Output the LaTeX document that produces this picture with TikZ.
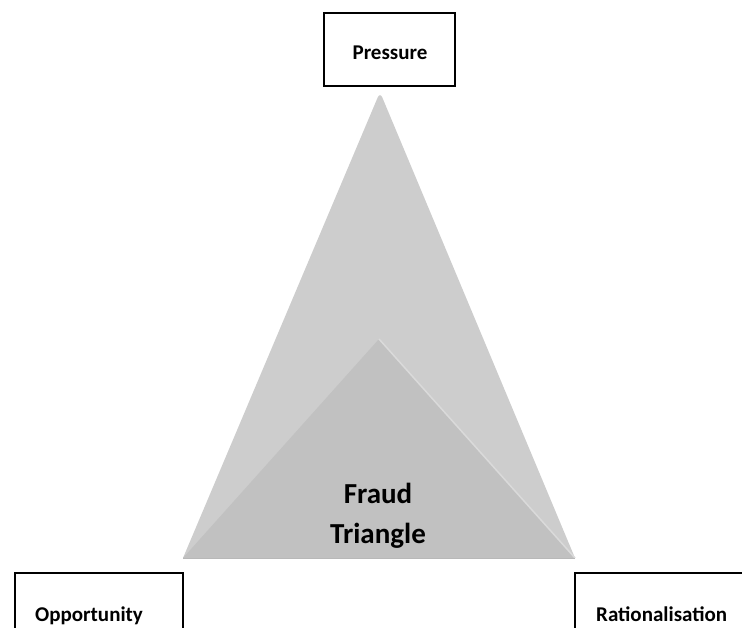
\documentclass[tikz,border=0pt]{standalone}
\usepackage{fontspec}
\setmainfont{Carlito}
\usetikzlibrary{shapes,positioning}
\definecolor{outergray}{HTML}{CDCDCD}
\definecolor{innergray}{HTML}{C1C1C1}
\definecolor{edgegray}{HTML}{DADADA}
\definecolor{basegray}{HTML}{B8B8B8}
\tikzstyle{box} = [rectangle, draw=black, line width=1.2pt, fill=white]
\tikzstyle{label} = [font=\bfseries\fontsize{21}{25}\selectfont, inner sep=0pt]

\begin{document}
\begin{tikzpicture}[x=1pt,y=-1pt]
        \useasboundingbox (0,0) rectangle (742,628);
        \clip (0,0) rectangle (742,628);
        
        \coordinate (A) at (380,92);
        \coordinate (BL) at (183,558);
        \coordinate (BR) at (575,558);
        \coordinate (C) at (379,339);
        
        \fill[outergray] (BL) [rounded corners=6pt] -- (A) [sharp corners] -- (BR) -- cycle;
        \fill[innergray] (BL) -- (C) -- (BR) -- cycle;
        \draw[edgegray, line width=1.5pt] (C) -- (BR);
        \draw[basegray, line width=1pt] (BL) -- (BR);
        
        \node (FT) [align=center, inner sep=0pt, font=\bfseries\fontsize{29}{40}\selectfont] at (378,516) {Fraud \\ Triangle};
        
        \node (P) [box, minimum width=131pt, minimum height=73pt] at (389.5,49.5) {};
        \node (PL) [label, anchor=base] at (390,60) {Pressure};
        
        \node (O) [box, minimum width=168pt, minimum height=100pt] at (99,623) {};
        \node (OL) [label, anchor=base west] at (35,621) {Opportunity};
        
        \node (R) [box, minimum width=172pt, minimum height=100pt] at (661,623) {};
        \node (RL) [label, anchor=base west] at (596,621) {Rationalisation};
        
    \end{tikzpicture}
\end{document}
